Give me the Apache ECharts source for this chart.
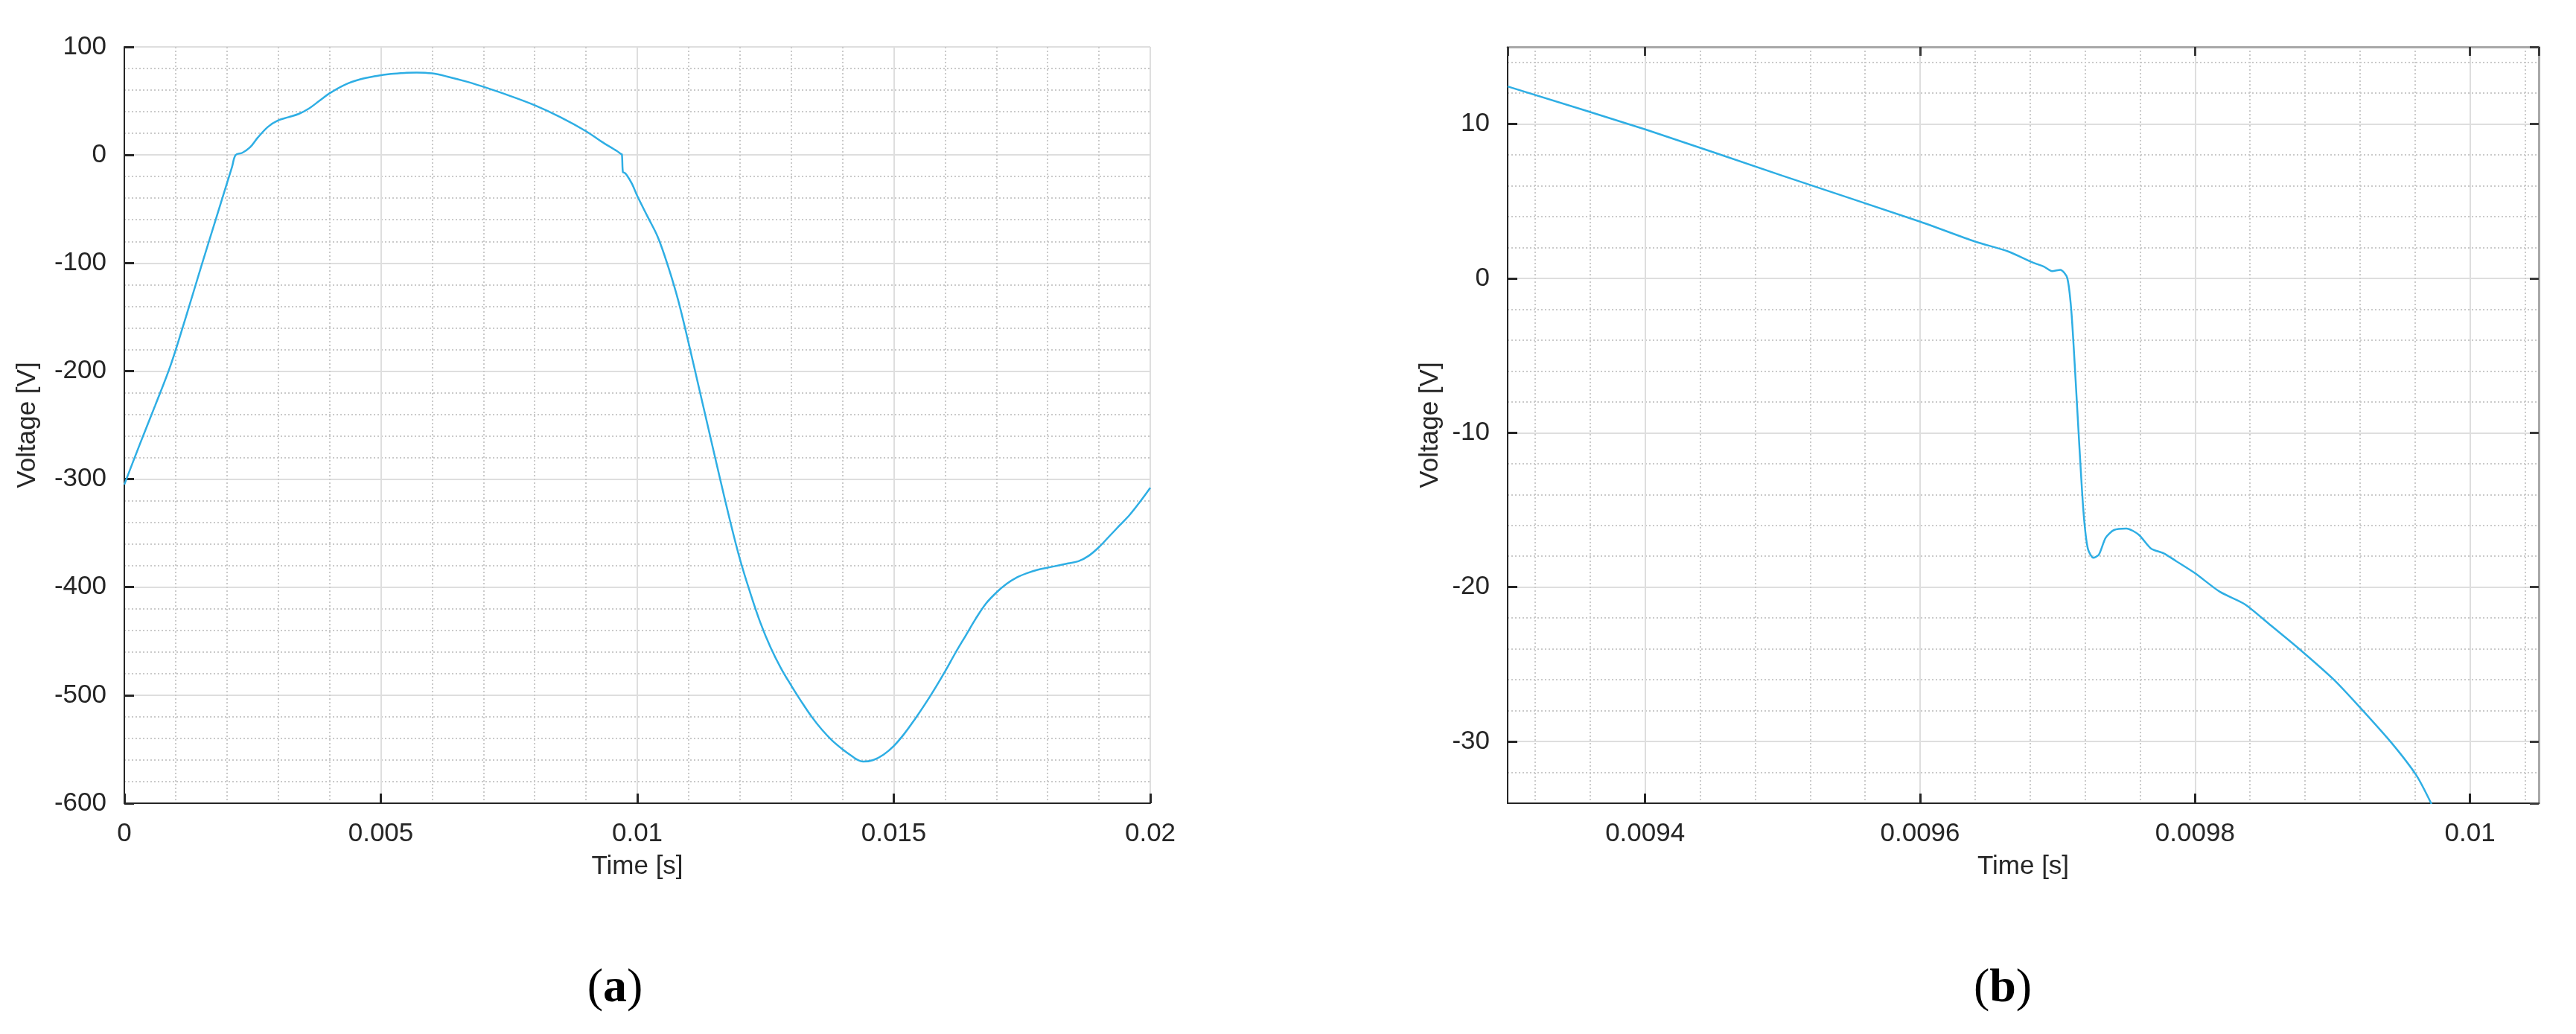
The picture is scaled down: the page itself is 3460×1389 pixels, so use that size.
<!DOCTYPE html>
<html>
<head>
<meta charset="utf-8">
<title>Voltage</title>
<script src="https://cdn.jsdelivr.net/npm/echarts@6/dist/echarts.min.js"></script>
<style>
  html, body { margin: 0; padding: 0; background: #fff; }
  #chart { width: 3460px; height: 1389px; }
</style>
</head>
<body>
<div id="chart"></div>
<script>
// (a) one full period
const timeA = [0, 0.0003, 0.0006, 0.0009, 0.0012, 0.0015, 0.0018, 0.0021, 0.00217,
  0.0023, 0.00245, 0.0026, 0.0028, 0.003, 0.0032, 0.0034, 0.0036, 0.0038, 0.004,
  0.0043, 0.0046, 0.0049, 0.0052, 0.0055, 0.0057, 0.006, 0.0063, 0.0067, 0.0071,
  0.0075, 0.008, 0.0085, 0.009, 0.0093, 0.0096, 0.00968, 0.0097, 0.00972, 0.00975,
  0.0098, 0.0099, 0.01, 0.0102, 0.0104, 0.0106, 0.0108, 0.011, 0.0112, 0.0114,
  0.0116, 0.0118, 0.012, 0.0122, 0.0124, 0.0126, 0.0128, 0.013, 0.0132, 0.0134,
  0.0136, 0.0138, 0.014, 0.0142, 0.0143, 0.0144, 0.0146, 0.0148, 0.015, 0.0152,
  0.0154, 0.0156, 0.0158, 0.016, 0.0162, 0.0164, 0.0166, 0.0168, 0.017, 0.0172,
  0.0174, 0.0176, 0.0178, 0.018, 0.0182, 0.0184, 0.0186, 0.0188, 0.019, 0.0192,
  0.0194, 0.0196, 0.0198, 0.02];
const voltA = [-305, -268, -232, -195, -150, -103, -57, -11, 0,
  2, 7, 16, 26, 32, 35, 38, 43, 50, 57,
  65, 70, 73, 75, 76, 76.3, 75.5, 72.5, 67.5, 61.5,
  55, 46, 35, 22, 12.4, 3.7, 1.0, 0.5, -16, -16.4,
  -19, -27, -38, -57, -76, -103, -135, -174, -215, -256,
  -297, -337, -374, -405, -433, -456, -475, -491, -506, -520,
  -532, -542, -550, -557, -560, -561.5, -560, -555, -547, -536,
  -523, -509, -494, -478, -461, -445, -429, -415, -405, -397,
  -391, -387, -384, -382, -380, -378, -376, -371, -363, -353,
  -343, -333, -321, -308];

// (b) close-up around the step
const timeB = [0.0093, 0.0094, 0.0095, 0.0096, 0.00964, 0.009664, 0.009682, 0.00969,
  0.009696, 0.009702, 0.009707, 0.00971, 0.009713, 0.009716, 0.009719, 0.009722,
  0.009726, 0.00973, 0.009735, 0.009741, 0.00975, 0.009759, 0.009768, 0.009777,
  0.009786, 0.0098, 0.009818, 0.009836, 0.009854, 0.009877, 0.009901, 0.009919,
  0.009943, 0.009961, 0.009972];
const voltB = [12.44, 9.66, 6.65, 3.68, 2.39, 1.75, 1.03, 0.77,
  0.47, 0.56, 0.04, -2.1, -6.4, -11.1, -15.3, -17.5,
  -18.1, -17.9, -16.8, -16.3, -16.2, -16.6, -17.5, -17.8,
  -18.3, -19.1, -20.3, -21.1, -22.4, -24.1, -26.0, -27.7,
  -30.1, -32.2, -34.06];

const xLimA = [0, 0.02];
const yLimA = [-600, 100];
const xStepA = 0.005;
const yStepA = 100;
const xLimB = [0.0093, 0.01005];
const yLimB = [-34, 15];
const panelLabels = ['a', 'b'];

const textColor = '#262626';
const lineColor = '#2eaee4';
const fontFamily = 'Liberation Sans, Arial, sans-serif';

function pairs(xs, ys) {
  return xs.map((x, i) => [x, ys[i]]);
}

function mainAxis(gridIndex, position, lim, extra) {
  return Object.assign({
    type: 'value',
    gridIndex: gridIndex,
    position: position,
    min: lim[0],
    max: lim[1],
    axisLine: { show: true, onZero: false, lineStyle: { color: textColor, width: 2 } },
    axisTick: { show: true, inside: true, length: 13, lineStyle: { color: textColor, width: 3 } },
    axisLabel: { color: textColor, fontSize: 35, fontFamily: fontFamily, margin: 24 },
    splitLine: { show: true, lineStyle: { color: '#dedede', width: 2 } },
    minorTick: { show: false, splitNumber: 5 },
    minorSplitLine: { show: true, lineStyle: { color: '#cacaca', width: 2, type: [2, 3] } },
    nameLocation: 'middle',
    nameTextStyle: { color: textColor, fontSize: 35, fontFamily: fontFamily }
  }, extra);
}

// mirrored axes for the boxed right panel (ticks only)
function boxAxis(gridIndex, position, lim, extra) {
  return Object.assign({
    type: 'value',
    gridIndex: gridIndex,
    position: position,
    min: lim[0],
    max: lim[1],
    axisLine: { show: true, onZero: false, lineStyle: { color: '#a8a8a8', width: 3 } },
    axisTick: { show: true, inside: true, length: 12, lineStyle: { color: '#3a3a3a', width: 3 } },
    axisLabel: { show: false },
    splitLine: { show: false }
  }, extra);
}

const chart = echarts.init(document.getElementById('chart'));

const option = {
  animation: false,
  backgroundColor: '#ffffff',
  grid: [
    { left: 167, top: 63, width: 1378, height: 1016 },
    { left: 2025, top: 63, width: 1385, height: 1016 }
  ],
  xAxis: [
    mainAxis(0, 'bottom', xLimA, { interval: xStepA, name: 'Time [s]', nameGap: 68 }),
    mainAxis(1, 'bottom', xLimB, {
      splitNumber: 4, name: 'Time [s]', nameGap: 68,
      axisLabel: { color: textColor, fontSize: 35, fontFamily: fontFamily, margin: 24, showMinLabel: false, showMaxLabel: false }
    }),
    boxAxis(1, 'top', xLimB, { splitNumber: 4 })
  ],
  yAxis: [
    mainAxis(0, 'left', yLimA, { interval: yStepA, name: 'Voltage [V]', nameGap: 112 }),
    mainAxis(1, 'left', yLimB, {
      splitNumber: 5, name: 'Voltage [V]', nameGap: 86,
      axisLabel: { color: textColor, fontSize: 35, fontFamily: fontFamily, margin: 24, showMinLabel: false, showMaxLabel: false }
    }),
    boxAxis(1, 'right', yLimB, { splitNumber: 5 })
  ],
  series: [
    {
      type: 'line',
      xAxisIndex: 0,
      yAxisIndex: 0,
      data: pairs(timeA, voltA),
      showSymbol: false,
      smooth: 0.35,
      lineStyle: { color: lineColor, width: 2.5 }
    },
    {
      type: 'line',
      xAxisIndex: 1,
      yAxisIndex: 1,
      data: pairs(timeB, voltB),
      showSymbol: false,
      smooth: 0.25,
      lineStyle: { color: lineColor, width: 2.5 }
    }
  ],
  graphic: [
    {
      type: 'text', x: 826, y: 1328,
      style: {
        text: '({b|' + panelLabels[0] + '})', align: 'center', verticalAlign: 'middle',
        fontFamily: 'Liberation Serif', fontSize: 64, fill: '#000',
        rich: { b: { fontFamily: 'Liberation Serif', fontSize: 64, fontWeight: 'bold' } }
      }
    },
    {
      type: 'text', x: 2690, y: 1328,
      style: {
        text: '({b|' + panelLabels[1] + '})', align: 'center', verticalAlign: 'middle',
        fontFamily: 'Liberation Serif', fontSize: 64, fill: '#000',
        rich: { b: { fontFamily: 'Liberation Serif', fontSize: 64, fontWeight: 'bold' } }
      }
    }
  ]
};

chart.setOption(option);
window.addEventListener('resize', () => chart.resize());
</script>
</body>
</html>
